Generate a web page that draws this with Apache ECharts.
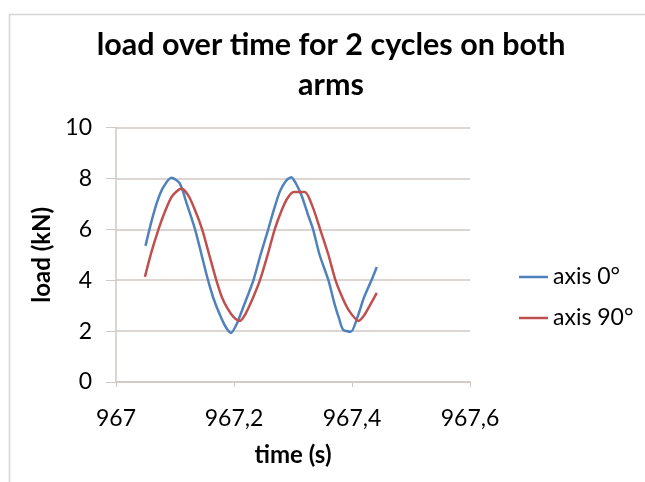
<!DOCTYPE html>
<html>
<head>
<meta charset="utf-8">
<script src="https://cdn.jsdelivr.net/npm/echarts@6/dist/echarts.min.js"></script>
<style>
  html, body { margin: 0; padding: 0; background: #fff; }
  #chart { width: 645px; height: 482px; }
</style>
</head>
<body>
<div id="chart"></div>
<script>
// time samples (s) and load (kN)
const time0 = [967.050, 967.060, 967.070, 967.080, 967.094, 967.108, 967.120, 967.134, 967.145, 967.156,
  967.165, 967.175, 967.185, 967.195, 967.205, 967.215, 967.225, 967.233, 967.245, 967.258,
  967.268, 967.278, 967.288, 967.297, 967.305, 967.315, 967.325, 967.334, 967.345, 967.360,
  967.370, 967.378, 967.385, 967.398, 967.410, 967.420, 967.433, 967.442];
const load0 = [5.35, 6.3, 7.1, 7.65, 8.03, 7.8, 7.0, 6.0, 5.0, 4.0,
  3.3, 2.7, 2.2, 1.93, 2.3, 2.9, 3.5, 4.0, 5.0, 6.0,
  6.8, 7.5, 7.9, 8.05, 7.8, 7.3, 6.6, 6.0, 5.0, 4.0,
  3.1, 2.5, 2.05, 1.97, 2.6, 3.3, 4.0, 4.52];

const time90 = [967.049, 967.060, 967.072, 967.083, 967.095, 967.111, 967.122, 967.134, 967.146, 967.158,
  967.170, 967.180, 967.190, 967.199, 967.210, 967.220, 967.232, 967.244, 967.257, 967.269,
  967.280, 967.290, 967.301, 967.320, 967.333, 967.346, 967.360, 967.372, 967.384, 967.395,
  967.411, 967.420, 967.430, 967.442];
const load90 = [4.13, 5.1, 6.0, 6.7, 7.3, 7.6, 7.35, 6.75, 6.0, 5.0,
  4.0, 3.3, 2.85, 2.56, 2.4, 2.7, 3.3, 4.0, 5.0, 6.0,
  6.7, 7.2, 7.47, 7.47, 6.9, 6.0, 5.0, 4.0, 3.3, 2.8,
  2.4, 2.6, 3.0, 3.5];

const seriesNames = ["axis 0°", "axis 90°"];
const font = "Lato, 'Open Sans', sans-serif";

function pairs(xs, ys) {
  return xs.map((x, i) => [x, ys[i]]);
}

const myChart = echarts.init(document.getElementById("chart"));
const option = {
  animation: false,
  graphic: [{
    type: "rect",
    left: 7, top: 12,
    shape: { width: 700, height: 500 },
    style: { fill: "none", stroke: "#d4d4d4", lineWidth: 1.5 },
    z: -1
  }],
  title: {
    text: "load over time for 2 cycles on both\narms",
    left: 326,
    textAlign: "center",
    top: 20,
    textStyle: { fontFamily: font, fontWeight: "bold", fontSize: 30.5, color: "#000", lineHeight: 40 }
  },
  legend: {
    data: seriesNames,
    orient: "vertical",
    left: 519,
    top: 265,
    padding: 0,
    itemWidth: 29,
    itemHeight: 2.5,
    itemGap: 17,
    icon: "rect",
    textStyle: { fontFamily: font, fontSize: 23, lineHeight: 24, color: "#000" }
  },
  grid: { left: 116, right: 175, top: 127.5, bottom: 100 },
  xAxis: {
    type: "value",
    min: 967,
    max: 967.6,
    interval: 0.2,
    name: "time (s)",
    nameLocation: "middle",
    nameGap: 61,
    nameTextStyle: { fontFamily: font, fontWeight: "bold", fontSize: 24, color: "#000" },
    axisLine: { lineStyle: { color: "#d0c8c4", width: 1.5 } },
    axisTick: { show: true, length: 5, lineStyle: { color: "#d0c8c4" } },
    splitLine: { show: false },
    axisLabel: {
      fontFamily: font, fontSize: 23, color: "#000", margin: 25,
      formatter: v => String(Math.round(v * 10) / 10).replace(".", ",")
    }
  },
  yAxis: {
    type: "value",
    min: 0,
    max: 10,
    interval: 2,
    name: "load (kN)",
    nameLocation: "middle",
    nameGap: 57,
    nameRotate: 90,
    nameTextStyle: { fontFamily: font, fontWeight: "bold", fontSize: 24, color: "#000" },
    axisLine: { show: true, lineStyle: { color: "#d0c8c4", width: 1.5 } },
    axisTick: { show: true, length: 10, lineStyle: { color: "#d0c8c4" } },
    splitLine: { lineStyle: { color: "#d0c8c4", width: 1.5 } },
    axisLabel: { fontFamily: font, fontSize: 23, color: "#000", margin: 24 }
  },
  series: [
    {
      name: seriesNames[0],
      type: "line",
      data: pairs(time0, load0),
      showSymbol: false,
      smooth: 0.25,
      color: "#4f81bd",
      lineStyle: { width: 2.5 }
    },
    {
      name: seriesNames[1],
      type: "line",
      data: pairs(time90, load90),
      showSymbol: false,
      smooth: 0.25,
      color: "#c0504d",
      lineStyle: { width: 2.5 }
    }
  ]
};
myChart.setOption(option);
window.addEventListener("resize", function () {
  myChart.resize();
});
</script>
</body>
</html>
